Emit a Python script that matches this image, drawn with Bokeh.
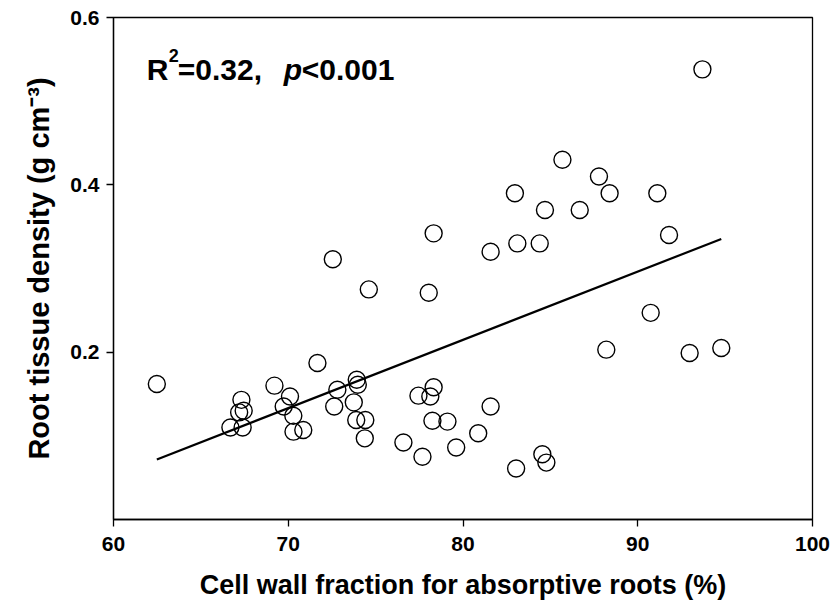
import numpy as np
from bokeh.plotting import figure
from bokeh.models import ColumnDataSource, FixedTicker, Label, Range1d
from bokeh.embed import file_html
from bokeh.resources import INLINE

# ---- data ----
cell_wall = [62.48, 67.32, 67.45, 67.19, 66.69, 67.39, 69.21, 70.10, 69.74, 70.29,
             70.30, 70.86, 71.67, 72.81, 72.63, 73.92, 73.98, 73.75, 73.89, 74.41,
             74.38, 76.59, 77.68, 77.45, 78.13, 78.32, 78.25, 79.11, 79.61, 80.87,
             81.58, 83.04, 84.54, 84.77, 85.69, 87.78, 88.39, 91.12, 82.97, 84.69,
             86.68, 83.11, 84.39, 81.58, 91.79, 90.74, 88.20, 92.97, 94.78, 93.70,
             72.55, 74.61, 78.32, 78.04]
tissue_density = [0.162, 0.143, 0.130, 0.128, 0.110, 0.110, 0.160, 0.147, 0.135, 0.124,
                  0.105, 0.107, 0.187, 0.155, 0.135, 0.167, 0.161, 0.140, 0.119, 0.119,
                  0.097, 0.092, 0.075, 0.148, 0.147, 0.158, 0.118, 0.117, 0.086, 0.103,
                  0.135, 0.061, 0.078, 0.068, 0.430, 0.410, 0.390, 0.390, 0.390, 0.370,
                  0.370, 0.330, 0.330, 0.320, 0.340, 0.247, 0.203, 0.199, 0.205, 0.538,
                  0.311, 0.275, 0.342, 0.271]
fit_slope = 0.00816
fit_intercept = -0.4381
x_ticks = [60, 70, 80, 90, 100]
y_ticks = [0.2, 0.4, 0.6]

FONT = "Liberation Sans"

p = figure(width=832, height=611, output_backend="svg", toolbar_location=None,
           x_range=Range1d(60, 100), y_range=Range1d(0, 0.6),
           min_border_left=113, min_border_right=20, min_border_top=17, min_border_bottom=92)
p.background_fill_color = "white"
p.border_fill_color = "white"
p.outline_line_color = "black"
p.outline_line_width = 1.3
p.xgrid.visible = False
p.ygrid.visible = False

src = ColumnDataSource(dict(x=cell_wall, y=tissue_density))
xs = np.array([min(cell_wall), max(cell_wall)])
p.line(xs, fit_slope * xs + fit_intercept, line_color="black", line_width=2.2)
p.scatter("x", "y", source=src, size=17, marker="circle", fill_alpha=0,
          line_color="black", line_width=1.4)

for ax in (p.xaxis[0], p.yaxis[0]):
    ax.axis_line_color = "black"
    ax.axis_line_width = 1.3
    ax.major_tick_line_color = "black"
    ax.major_tick_line_width = 1.3
    ax.major_tick_out = 7
    ax.major_tick_in = 0
    ax.minor_tick_line_color = None
    ax.major_label_text_font = FONT
    ax.major_label_text_font_style = "bold"
    ax.major_label_text_font_size = "21px"
    ax.major_label_text_color = "black"
    ax.axis_label_text_font = FONT
    ax.axis_label_text_font_style = "bold"
    ax.axis_label_text_color = "black"

p.xaxis.ticker = FixedTicker(ticks=x_ticks)
p.yaxis.ticker = FixedTicker(ticks=y_ticks)
p.xaxis.major_label_standoff = 10
p.yaxis.major_label_standoff = 7

p.xaxis.axis_label = "Cell wall fraction for absorptive roots (%)"
p.xaxis.axis_label_text_font_size = "27px"
p.xaxis.axis_label_standoff = 16

p.yaxis.axis_label = "Root tissue density (g cm\u207b\u00b3)"
p.yaxis.axis_label_text_font_size = "29px"
p.yaxis.axis_label_standoff = 12

# R^2 annotation
rx, ry = 61.905, 0.5382
parts_r = [("R", 0, 0, "30px", "bold"),
           ("2", 22, 14, "18px", "bold"),
           ("=0.32,", 31, 0, "30px", "bold"),
           ("p", 137, 0, "30px", "bold italic"),
           ("<0.001", 155, 0, "30px", "bold")]
for txt, xo, yo, fs, st in parts_r:
    p.add_layout(Label(x=rx, y=ry, text=txt, x_offset=xo, y_offset=yo,
                       text_font=FONT, text_font_style=st, text_font_size=fs,
                       text_baseline="alphabetic", text_align="left", text_color="black"))

open("out.html", "w").write(file_html(p, INLINE))
